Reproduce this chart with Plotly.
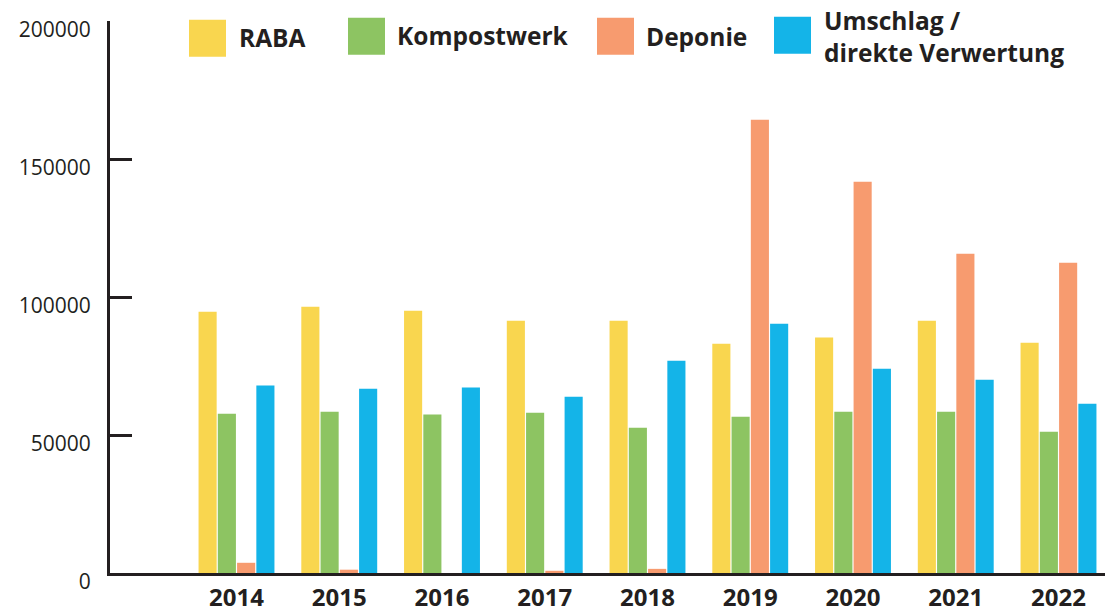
import plotly.graph_objects as go

years = [2014, 2015, 2016, 2017, 2018, 2019, 2020, 2021, 2022]
raba = [94700, 96500, 95000, 91400, 91400, 83100, 85300, 91400, 83400]
kompostwerk = [57700, 58400, 57400, 58100, 52600, 56600, 58400, 58400, 51200]
deponie = [3700, 1200, 0, 800, 1500, 164200, 141800, 115700, 112400]
umschlag = [67900, 66800, 67200, 63900, 76900, 90300, 74000, 70000, 61300]

series_names = ["RABA", "Kompostwerk", "Deponie", "Umschlag /<br>direkte Verwertung"]
series_values = [raba, kompostwerk, deponie, umschlag]
colors = ["#F9D64F", "#8DC462", "#F79B6F", "#14B4E8"]
y_ticks = [0, 50000, 100000, 150000, 200000]

INK = "#231F20"
OFF = 8  # page body margin of the html page
W, H = 1113 - OFF, 610 - OFF
# plot area in page pixels: left 110, right 1111, top 21.3, bottom 573.3
ML = 110 - OFF
MR = W - (1111 - OFF)
MT = 21.3 - OFF
MB = H - (573.3 - OFF)
PW = W - ML - MR
PH = H - MT - MB

fig = go.Figure()
for name, vals, col in zip(series_names, series_values, colors):
    fig.add_trace(go.Bar(x=years, y=vals, name=name, marker_color=col,
                         marker_line_width=0, showlegend=False))

def px_x(p):
    return (p - OFF - ML) / PW

def px_y(p):
    return (H - MB - (p - OFF)) / PH

# legend (manual, large swatches), positions in page pixels
shapes = []
annotations = []
sw_x = [189, 348, 597, 774]
sw_y = [20, 18, 18, 17]
txt_x = [237, 395, 644, 822]
txt_y = [38, 36, 37, 37]
for i in range(4):
    shapes.append(dict(type="rect", xref="paper", yref="paper",
                       x0=px_x(sw_x[i]), x1=px_x(sw_x[i] + 37),
                       y0=px_y(sw_y[i] + 37), y1=px_y(sw_y[i]),
                       fillcolor=colors[i], line_width=0, layer="above"))
    annotations.append(dict(xref="paper", yref="paper", x=px_x(txt_x[i]), y=px_y(txt_y[i]),
                            xanchor="left", yanchor="middle", showarrow=False,
                            text="<b>" + series_names[i] + "</b>", align="left",
                            font=dict(family="Open Sans", size=24.5, color=INK)))

# small upward tick at right end of x axis
shapes.append(dict(type="line", xref="paper", yref="paper", x0=1, x1=1,
                   y0=0, y1=13 / PH, line=dict(color=INK, width=3)))

x0 = 2014 - (236.5 - 110) / 102.75
x1 = x0 + PW / 102.75

fig.update_layout(
    width=W, height=H,
    margin=dict(l=ML, r=MR, t=MT, b=MB, pad=0, autoexpand=False),
    plot_bgcolor="white", paper_bgcolor="white",
    barmode="group", bargap=0.25, bargroupgap=0.06,
    shapes=shapes, annotations=annotations,
    font=dict(family="Open Sans", color=INK),
    xaxis=dict(range=[x0, x1], tickmode="array", tickvals=years,
               ticktext=["<b>%d</b>" % y for y in years],
               tickfont=dict(family="Open Sans", size=24, color=INK),
               showgrid=False, zeroline=False, showline=True, automargin=False,
               linecolor=INK, linewidth=3, ticks="", ticklabelstandoff=1),
    yaxis=dict(range=[0, 200000], tickmode="array", tickvals=y_ticks,
               ticktext=[str(v) for v in y_ticks],
               tickfont=dict(family="Open Sans", size=21, color=INK),
               showgrid=False, zeroline=False, showline=True, automargin=False,
               linecolor=INK, linewidth=3, ticks="inside", ticklen=22,
               tickwidth=3, tickcolor=INK, ticklabelshift=9, ticklabelstandoff=12),
)

fig.write_html("out.html")
